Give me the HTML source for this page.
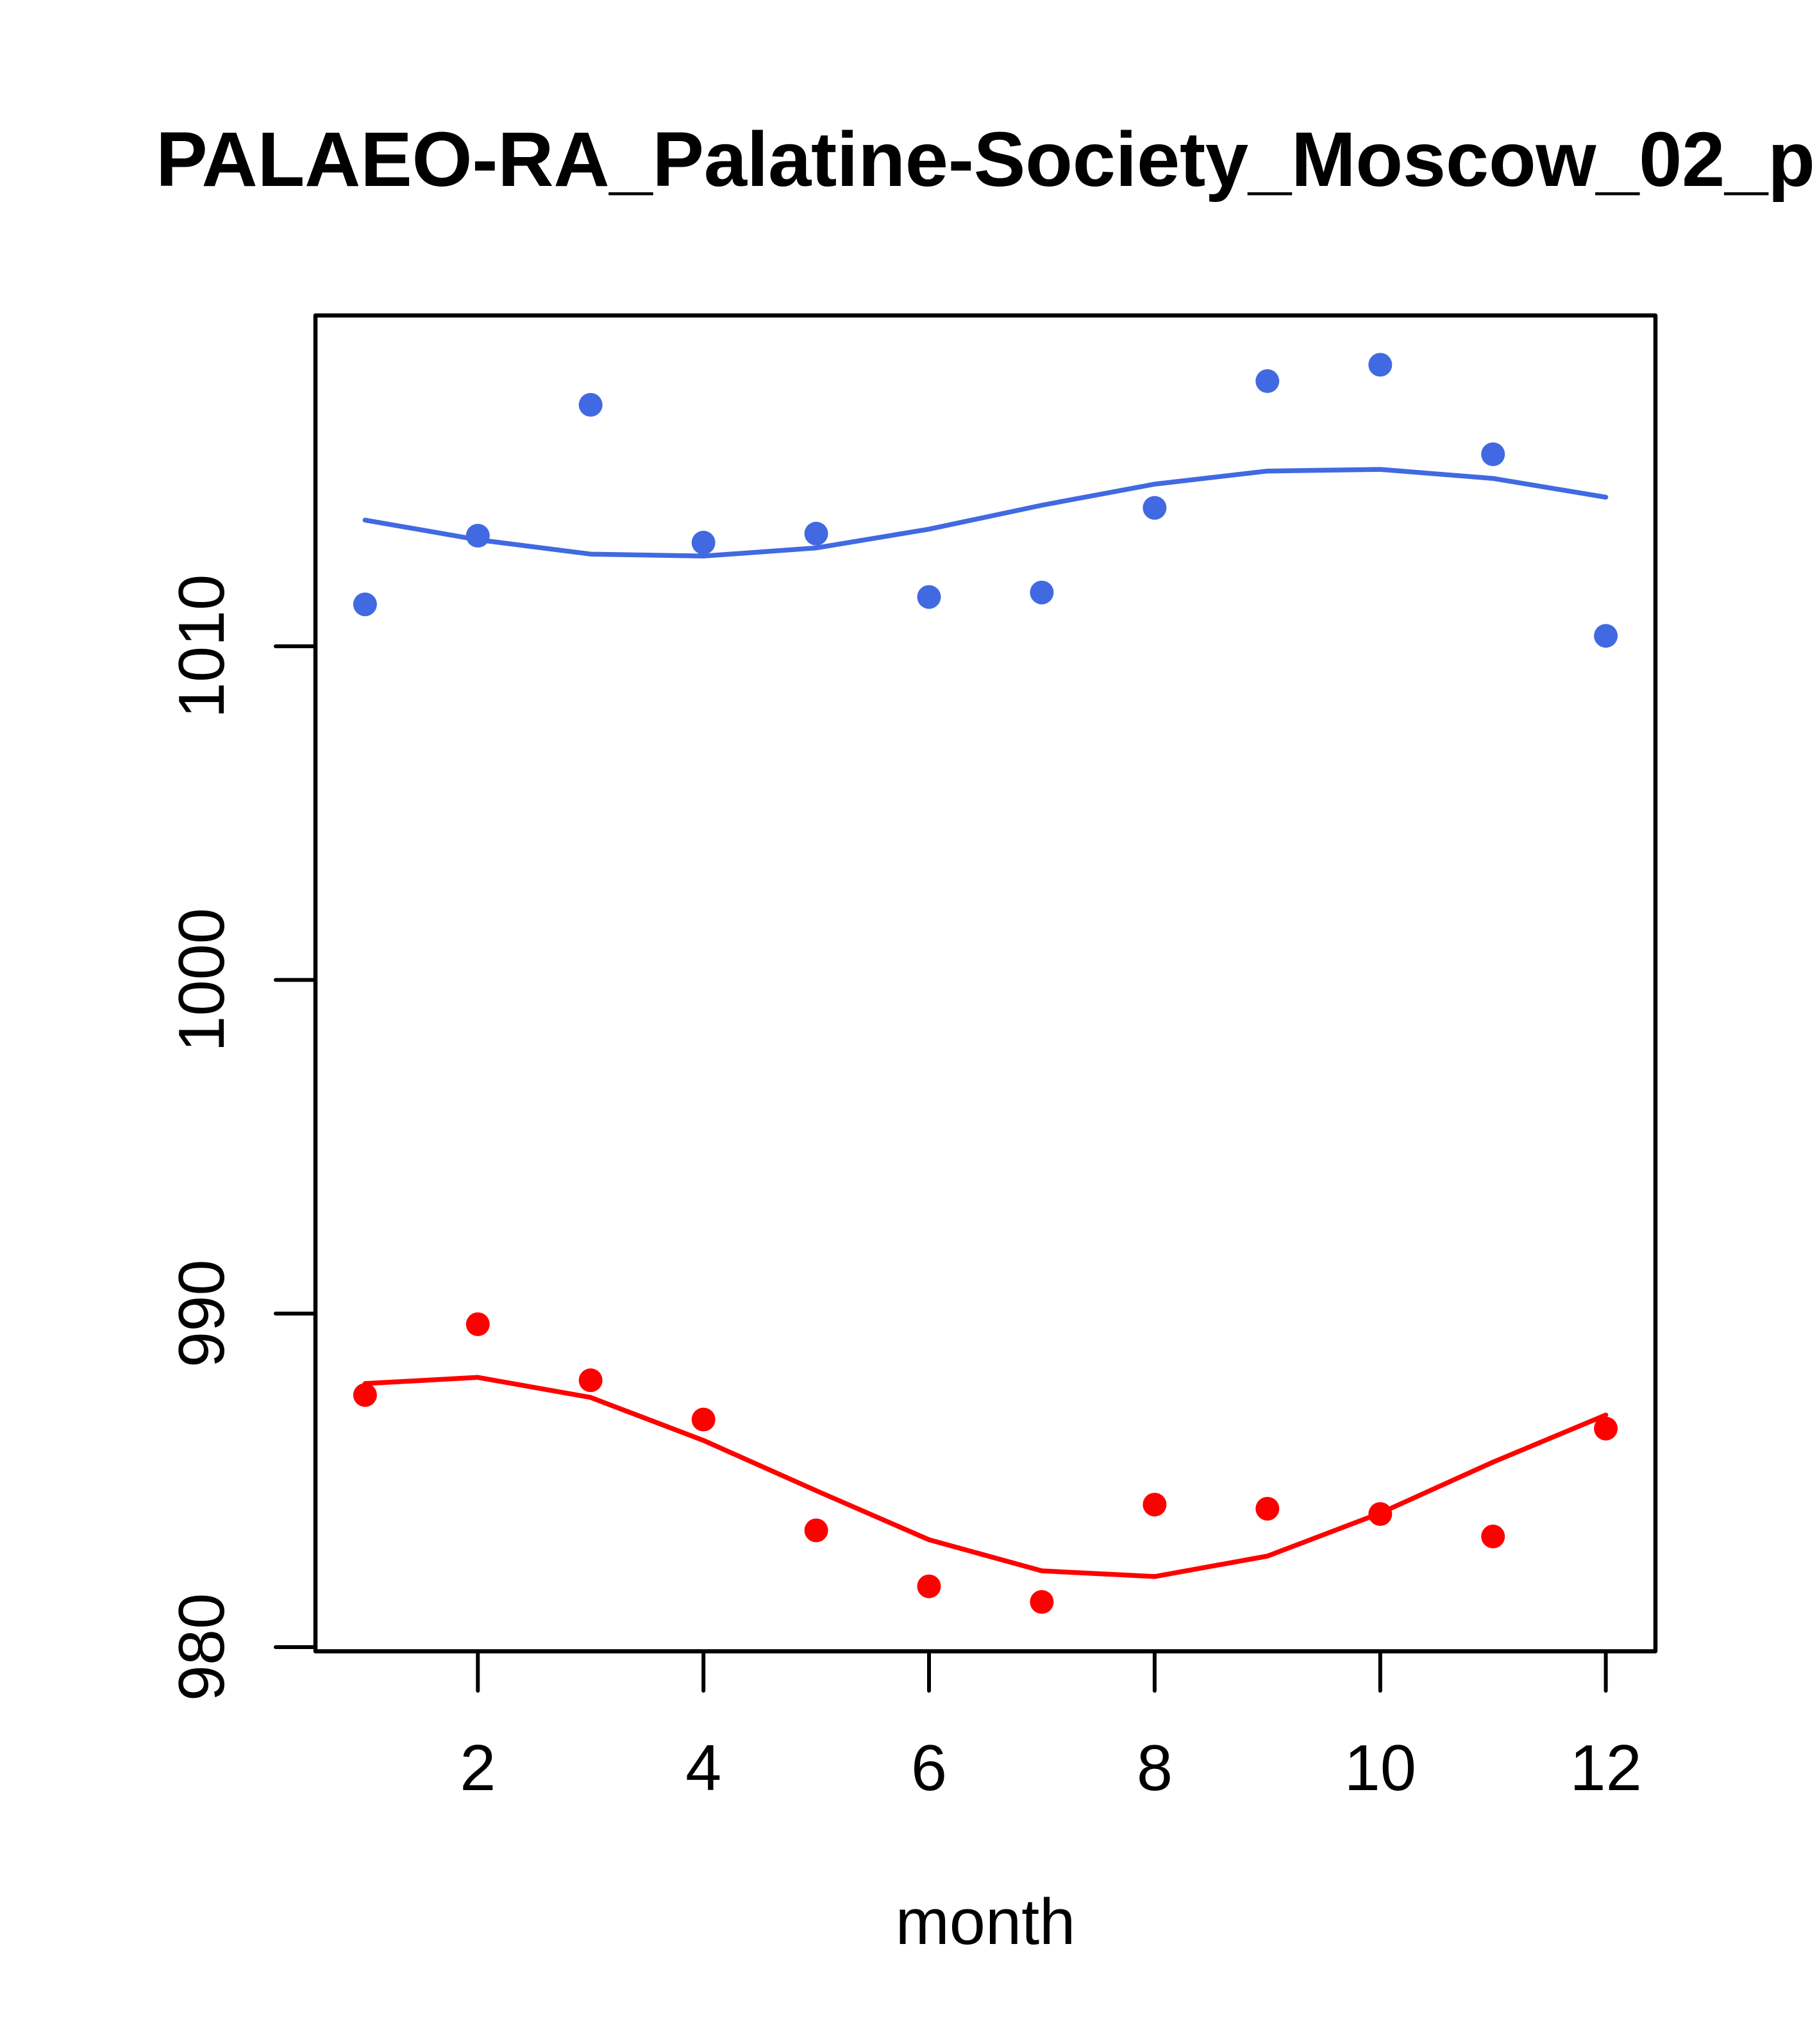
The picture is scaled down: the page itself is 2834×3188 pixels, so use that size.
<!DOCTYPE html>
<html>
<head>
<meta charset="utf-8">
<style>
  html, body { margin: 0; padding: 0; background: #ffffff; }
  body { width: 2834px; height: 3188px; overflow: hidden; }
  svg { display: block; }
  text { font-family: "Liberation Sans", Arial, sans-serif; fill: #000; }
</style>
</head>
<body>
<svg width="2834" height="3188" viewBox="0 0 2834 3188" xmlns="http://www.w3.org/2000/svg">
  <rect x="0" y="0" width="2834" height="3188" fill="#ffffff"/>

  <!-- Title -->
  <text x="243" y="290" font-size="121" font-weight="bold" textLength="2588" lengthAdjust="spacing">PALAEO-RA_Palatine-Society_Moscow_02_p</text>

  <!-- Plot box -->
  <rect x="492" y="492" width="2090" height="2083.5" fill="none" stroke="#000" stroke-width="6.5" stroke-linejoin="round"/>

  <!-- X axis ticks -->
  <g stroke="#000" stroke-width="6" stroke-linecap="round">
    <line x1="745.3" y1="2575.5" x2="745.3" y2="2637"/>
    <line x1="1097.2" y1="2575.5" x2="1097.2" y2="2637"/>
    <line x1="1449" y1="2575.5" x2="1449" y2="2637"/>
    <line x1="1800.9" y1="2575.5" x2="1800.9" y2="2637"/>
    <line x1="2152.8" y1="2575.5" x2="2152.8" y2="2637"/>
    <line x1="2504.6" y1="2575.5" x2="2504.6" y2="2637"/>
  </g>
  <g font-size="101" text-anchor="middle">
    <text x="745.3" y="2792">2</text>
    <text x="1097.2" y="2792">4</text>
    <text x="1449" y="2792">6</text>
    <text x="1800.9" y="2792">8</text>
    <text x="2152.8" y="2792">10</text>
    <text x="2504.6" y="2792">12</text>
  </g>

  <!-- Y axis ticks -->
  <g stroke="#000" stroke-width="6" stroke-linecap="round">
    <line x1="430" y1="2569" x2="492" y2="2569"/>
    <line x1="430" y1="2048.7" x2="492" y2="2048.7"/>
    <line x1="430" y1="1528.4" x2="492" y2="1528.4"/>
    <line x1="430" y1="1008" x2="492" y2="1008"/>
  </g>
  <g font-size="101" text-anchor="middle">
    <text transform="translate(349,2569) rotate(-90)">980</text>
    <text transform="translate(349,2048.7) rotate(-90)">990</text>
    <text transform="translate(349,1528.4) rotate(-90)">1000</text>
    <text transform="translate(349,1008) rotate(-90)">1010</text>
  </g>

  <!-- X axis label -->
  <text x="1537" y="3032" font-size="101" text-anchor="middle">month</text>

  <!-- Blue series -->
  <polyline fill="none" stroke="#4169E1" stroke-width="7.5" stroke-linecap="round" stroke-linejoin="round"
    points="569.4,811.2 745.3,841.8 921.2,864.2 1097.2,867.3 1273.1,854.6 1449,825.3 1624.9,788 1800.9,755.1 1976.8,734.7 2152.8,732.1 2328.7,746.2 2504.6,775.5"/>
  <g fill="#4169E1">
    <circle cx="569.4" cy="942.6" r="18.5"/>
    <circle cx="745.3" cy="835.5" r="18.5"/>
    <circle cx="921.2" cy="631.4" r="18.5"/>
    <circle cx="1097.2" cy="846.3" r="18.5"/>
    <circle cx="1273.1" cy="832.3" r="18.5"/>
    <circle cx="1449" cy="931.1" r="18.5"/>
    <circle cx="1624.9" cy="924.1" r="18.5"/>
    <circle cx="1800.9" cy="792.1" r="18.5"/>
    <circle cx="1976.8" cy="594.4" r="18.5"/>
    <circle cx="2152.8" cy="568.9" r="18.5"/>
    <circle cx="2328.7" cy="708.5" r="18.5"/>
    <circle cx="2504.6" cy="991.7" r="18.5"/>
  </g>

  <!-- Red series -->
  <polyline fill="none" stroke="#FF0000" stroke-width="7.5" stroke-linecap="round" stroke-linejoin="round"
    points="569.4,2157.9 745.3,2148.3 921.2,2179.6 1097.2,2246.6 1273.1,2325 1449,2401.5 1624.9,2450 1800.9,2458.9 1976.8,2427 2152.8,2360 2328.7,2280.4 2504.6,2207"/>
  <g fill="#FF0000">
    <circle cx="569.4" cy="2175.8" r="18.5"/>
    <circle cx="745.3" cy="2065.4" r="18.5"/>
    <circle cx="921.2" cy="2152.8" r="18.5"/>
    <circle cx="1097.2" cy="2214" r="18.5"/>
    <circle cx="1273.1" cy="2386.9" r="18.5"/>
    <circle cx="1449" cy="2474.2" r="18.5"/>
    <circle cx="1624.9" cy="2498.5" r="18.5"/>
    <circle cx="1800.9" cy="2346.7" r="18.5"/>
    <circle cx="1976.8" cy="2353.1" r="18.5"/>
    <circle cx="2152.8" cy="2361.4" r="18.5"/>
    <circle cx="2328.7" cy="2396.4" r="18.5"/>
    <circle cx="2504.6" cy="2228.1" r="18.5"/>
  </g>
</svg>
</body>
</html>
